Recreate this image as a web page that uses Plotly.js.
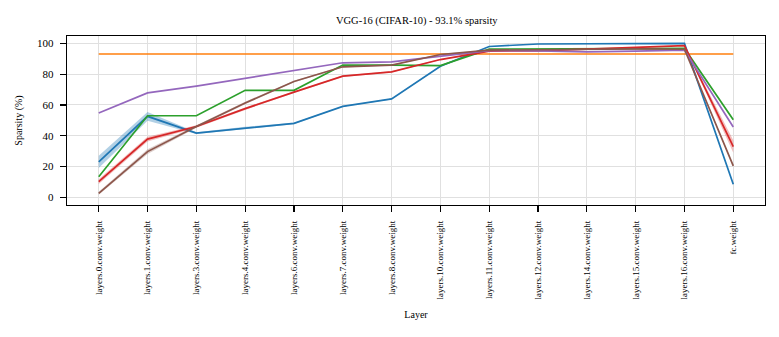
<!DOCTYPE html>
<html>
<head>
<meta charset="utf-8">
<script src="https://cdn.plot.ly/plotly-3.0.1.min.js"></script>
<style>
  html, body { margin: 0; padding: 0; background: #ffffff; }
  #chart { width: 779px; height: 337px; }
</style>
</head>
<body>
<div id="chart"></div>
<script>
var layers = ['layers.0.conv.weight', 'layers.1.conv.weight', 'layers.3.conv.weight', 'layers.4.conv.weight',
  'layers.6.conv.weight', 'layers.7.conv.weight', 'layers.8.conv.weight', 'layers.10.conv.weight',
  'layers.11.conv.weight', 'layers.12.conv.weight', 'layers.14.conv.weight', 'layers.15.conv.weight',
  'layers.16.conv.weight', 'fc.weight'];

// mean sparsity per layer (%) for each run
var blue   = [23.0, 52.6, 41.7, 45.0, 48.0, 59.1, 63.9, 85.2, 98.0, 99.6, 99.8, 99.9, 100.0, 8.5];
var orange = [93.1, 93.1, 93.1, 93.1, 93.1, 93.1, 93.1, 93.1, 93.1, 93.1, 93.1, 93.1, 93.1, 93.1];
var green  = [13.4, 53.0, 53.0, 69.5, 69.5, 85.9, 85.9, 85.6, 96.3, 96.5, 96.5, 96.6, 96.7, 50.4];
var red    = [10.2, 37.8, 46.0, 57.6, 68.3, 78.7, 81.5, 89.5, 95.0, 95.2, 96.3, 97.5, 98.6, 33.0];
var purple = [54.8, 67.8, 72.2, 77.3, 82.0, 87.4, 88.0, 91.7, 95.3, 95.2, 94.5, 95.0, 95.6, 45.7];
var brown  = [2.6, 29.7, 46.0, 61.3, 75.2, 84.8, 85.9, 92.8, 95.6, 95.8, 96.0, 96.5, 96.2, 20.4];

// spread across seeds (shaded band)
var blueStd  = [4.0, 2.8, 0.5, 0.8, 0.5, 0.3, 0.3, 0.3, 0.2, 0.1, 0.1, 0.1, 0.1, 0.3];
var redStd   = [1.5, 1.5, 0.8, 0.8, 0.5, 0.5, 0.4, 0.3, 0.2, 0.2, 0.2, 0.2, 0.2, 4.0];
var brownStd = [1.0, 1.5, 0.8, 0.8, 0.5, 0.4, 0.3, 0.3, 0.2, 0.2, 0.2, 0.2, 0.2, 0.5];

var series = [
  {name: 'run 1', y: blue, std: blueStd, color: '#1f77b4', fill: 'rgba(31,119,180,0.35)'},
  {name: 'run 2', y: orange, std: null, color: '#ff7f0e'},
  {name: 'run 3', y: green, std: null, color: '#2ca02c'},
  {name: 'run 4', y: red, std: redStd, color: '#d62728', fill: 'rgba(214,39,40,0.3)'},
  {name: 'run 5', y: purple, std: null, color: '#9467bd'},
  {name: 'run 6', y: brown, std: brownStd, color: '#8c564b', fill: 'rgba(140,86,75,0.3)'}
];

var data = [];
series.forEach(function (s) {
  if (s.std) {
    data.push({
      x: layers, y: s.y.map(function (v, i) { return v - s.std[i]; }),
      type: 'scatter', mode: 'lines', line: {width: 0}, hoverinfo: 'skip', showlegend: false
    });
    data.push({
      x: layers, y: s.y.map(function (v, i) { return v + s.std[i]; }),
      type: 'scatter', mode: 'lines', line: {width: 0}, fill: 'tonexty', fillcolor: s.fill,
      hoverinfo: 'skip', showlegend: false
    });
  }
  data.push({
    x: layers, y: s.y, name: s.name,
    type: 'scatter', mode: 'lines',
    line: {color: s.color, width: 1.7},
    showlegend: false
  });
});

var serif = "'Liberation Serif', 'Times New Roman', serif";

var layout = {
  width: 779,
  height: 337,
  paper_bgcolor: '#ffffff',
  plot_bgcolor: '#ffffff',
  font: {family: serif, size: 10, color: '#000000'},
  title: {
    text: 'VGG-16 (CIFAR-10) - 93.1% sparsity',
    font: {family: serif, size: 10.5, color: '#000000'},
    x: 0.535, xanchor: 'center', y: 0.94, yanchor: 'middle'
  },
  showlegend: false,
  margin: {l: 67, r: 14, t: 36, b: 132},
  xaxis: {
    type: 'category',
    range: [-0.65, 13.65],
    tickangle: -90,
    tickfont: {family: serif, size: 9, color: '#000000'},
    ticks: 'outside', ticklen: 6, tickwidth: 1.2, tickcolor: '#000000',
    ticklabelstandoff: 5,
    showgrid: true, gridcolor: '#e0e0e0', gridwidth: 1,
    showline: true, linecolor: '#000000', linewidth: 1.2, mirror: true,
    zeroline: false,
    title: {text: 'Layer', font: {family: serif, size: 10, color: '#000000'}, standoff: 12}
  },
  yaxis: {
    range: [-5, 104.8],
    tickvals: [0, 20, 40, 60, 80, 100],
    tickfont: {family: serif, size: 11, color: '#000000'},
    ticks: 'outside', ticklen: 6, tickwidth: 1.2, tickcolor: '#000000',
    ticklabelstandoff: 4,
    showgrid: true, gridcolor: '#e0e0e0', gridwidth: 1,
    showline: true, linecolor: '#000000', linewidth: 1.2, mirror: true,
    zeroline: false,
    title: {text: 'Sparsity (%)', font: {family: serif, size: 10, color: '#000000'}, standoff: 12}
  }
};

Plotly.newPlot('chart', data, layout, {displayModeBar: false, staticPlot: true});
</script>
</body>
</html>
